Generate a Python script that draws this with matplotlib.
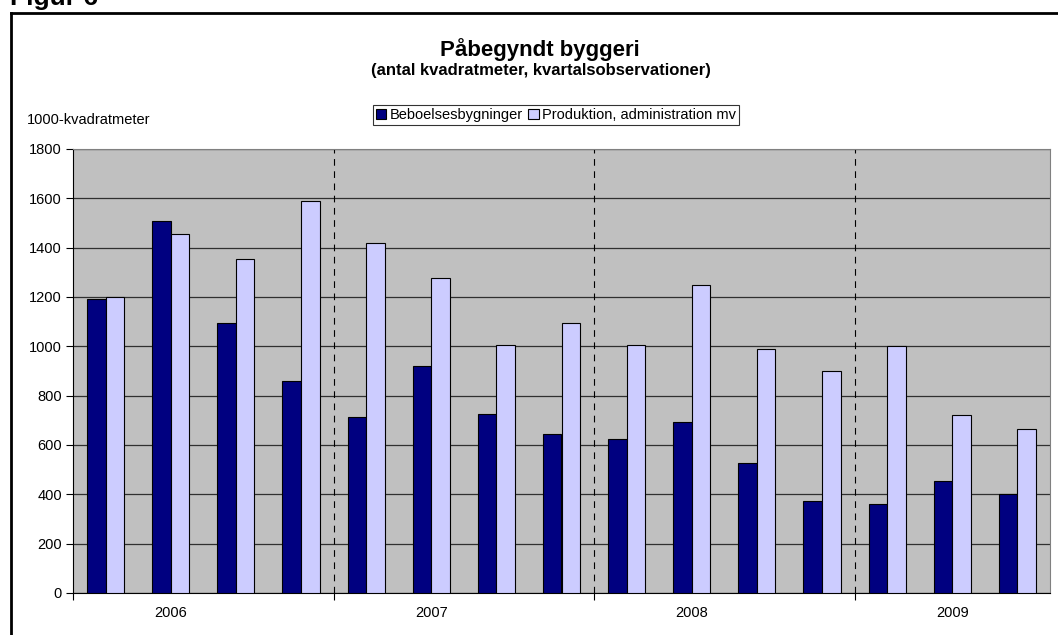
import numpy as np
import matplotlib
matplotlib.use("Agg")
import matplotlib.pyplot as plt
from matplotlib.lines import Line2D

plt.rcParams["font.family"] = ["Liberation Sans", "DejaVu Sans"]

# Data (1000 m2, quarterly observations 2006Q1 - 2009Q3)
years = ["2006", "2007", "2008", "2009"]
beboelse = [1193, 1510, 1095, 861, 715, 919, 727, 646,
            624, 694, 529, 371, 359, 456, 401]
produktion = [1200, 1456, 1353, 1591, 1418, 1277, 1007, 1095,
              1006, 1250, 991, 899, 1000, 723, 666]
series_names = ["Beboelsesbygninger", "Produktion, administration mv"]
yticks = list(range(0, 1801, 200))

DARK = "#000080"
LIGHT = "#CCCCFF"

fig = plt.figure(figsize=(10.58, 6.35), dpi=100)
ax = fig.add_axes([73 / 1058, 1 - 593 / 635, 977 / 1058, 444 / 635])

x = np.arange(len(beboelse))
w = 0.285
ax.bar(x - w / 2, beboelse, w, color=DARK, edgecolor="black", linewidth=0.8,
       zorder=3, label=series_names[0])
ax.bar(x + w / 2, produktion, w, color=LIGHT, edgecolor="black", linewidth=0.8,
       zorder=3, label=series_names[1])

ax.set_facecolor("#C0C0C0")
ax.set_xlim(-0.5, len(beboelse) - 0.5)
ax.set_ylim(0, 1800)
ax.set_yticks(yticks)
ax.yaxis.grid(True, color="#303030", linewidth=0.9, zorder=1)
ax.tick_params(axis="y", direction="out", length=5, labelsize=10.5, pad=3)

# year boundaries: ticks, dashed separators, labels at Q2 of each year
bounds = [4 * i - 0.5 for i in range(len(years))]
ax.set_xticks(bounds)
ax.set_xticklabels([])
ax.tick_params(axis="x", direction="out", length=5)
for b in bounds[1:]:
    ax.axvline(b, color="black", linewidth=0.8, linestyle=(0, (6, 5)), zorder=2)
for i, yr in enumerate(years):
    ax.text(4 * i + 1, -82, yr, ha="center", va="center", fontsize=10.5)

for side in ["top", "right"]:
    ax.spines[side].set_color("#808080")
for side in ["left", "bottom"]:
    ax.spines[side].set_color("black")

# titles and labels
fig.text(540 / 1058, 1 - 50 / 635, "Påbegyndt byggeri", ha="center", va="center",
         fontsize=16, fontweight="bold")
fig.text(541 / 1058, 1 - 71 / 635, "(antal kvadratmeter, kvartalsobservationer)",
         ha="center", va="center", fontsize=12, fontweight="bold")
fig.text(27 / 1058, 1 - 120 / 635, "1000-kvadratmeter", ha="left", va="center",
         fontsize=10.5)
fig.text(10 / 1058, 1 - 5 / 635, "Figur 6", ha="left", va="baseline",
         fontsize=19, fontweight="bold")

# outer frame (right and bottom edges lie outside the picture)
fig.add_artist(Line2D([11 / 1058, 1.0], [1 - 13 / 635] * 2, color="black",
                      linewidth=2, transform=fig.transFigure))
fig.add_artist(Line2D([11 / 1058] * 2, [0, 1 - 13 / 635], color="black",
                      linewidth=2, transform=fig.transFigure))

leg = fig.legend(loc="center", bbox_to_anchor=(556 / 1058, 1 - 115 / 635), ncol=2,
                 fontsize=10.5, frameon=True, fancybox=False, edgecolor="black",
                 handlelength=0.7, handleheight=0.7, handletextpad=0.25,
                 columnspacing=0.4, borderpad=0.2, borderaxespad=0)
leg.get_frame().set_linewidth(0.8)

fig.savefig("out.png", dpi=100)
